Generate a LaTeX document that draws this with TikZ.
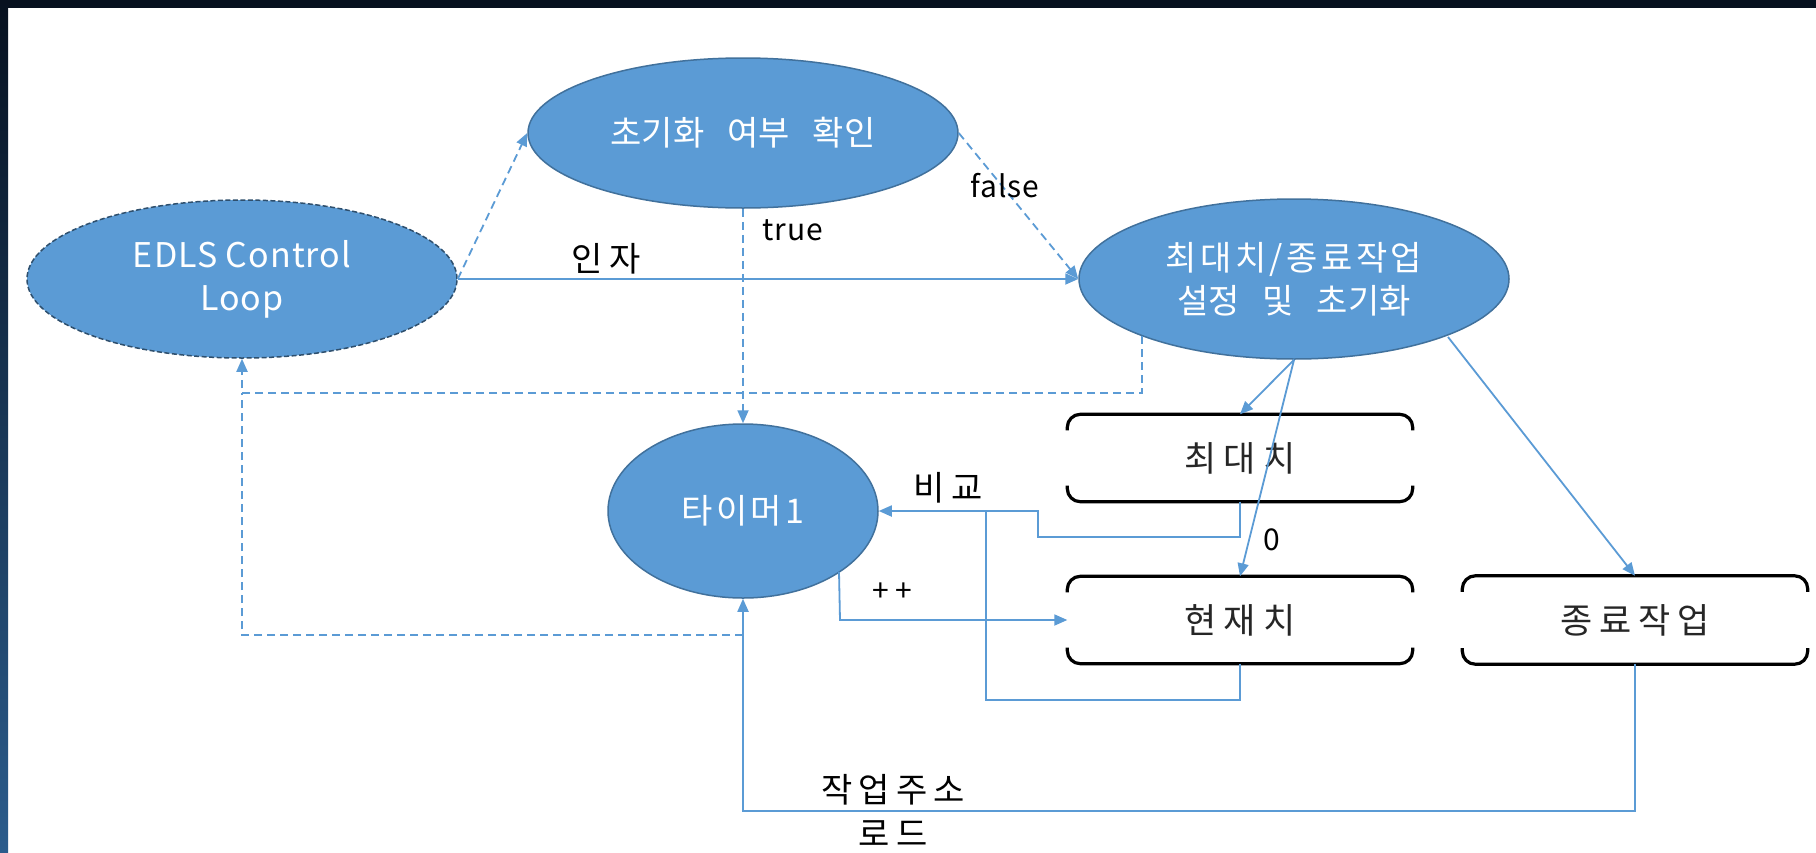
\documentclass[tikz,border=0pt]{standalone}
\usepackage{fontspec}
\setmainfont{Noto Sans CJK KR}[LetterSpace=3]
\newfontfamily\ellkr{Noto Sans CJK KR}[LetterSpace=10]
\newfontfamily\ellkrw{Noto Sans CJK KR}[WordSpace=3]
\newfontfamily\boxkr{Noto Sans CJK KR}[LetterSpace=20]
\newfontfamily\lblkr{Noto Sans CJK KR}[LetterSpace=18]
\usetikzlibrary{arrows.meta,shapes.geometric,calc}
\definecolor{fillblue}{HTML}{5B9BD5}
\definecolor{edgeblue}{HTML}{41719C}
\definecolor{linkblue}{HTML}{5B9BD5}
\definecolor{navy}{HTML}{07111F}
\definecolor{bandlow}{HTML}{2B5C8C}
\tikzset{
  bigell/.style={ellipse, fill=fillblue, draw=edgeblue, line width=1.5pt,
    minimum width=430pt, minimum height=158pt, inner sep=0pt, text=white,
    align=center, font=\fontsize{34}{43}\selectfont},
  loopell/.style={bigell, draw=edgeblue!70!black, dash pattern=on 5pt off 2.5pt},
  timerell/.style={bigell, minimum width=270pt, minimum height=174pt},
  brk/.style={minimum width=345pt, minimum height=87pt, inner sep=0pt,
    font=\boxkr\fontsize{35}{40}\selectfont, text=black!85},
  brkline/.style={line width=3.2pt, rounded corners=13pt, black},
  link/.style={draw=linkblue, line width=1.8pt, -{Triangle[length=13pt,width=11pt]}},
  dlink/.style={link, dash pattern=on 8pt off 5pt},
  plainlink/.style={draw=linkblue, line width=1.8pt},
  dplain/.style={plainlink, dash pattern=on 8pt off 5pt},
  lbl/.style={font=\lblkr\fontsize{34}{44}\selectfont, text=black, inner sep=0pt},
  smlbl/.style={inner sep=0pt, text=black, font=\fontsize{30}{36}\selectfont},
}
\newcommand\brkbox[1]{%
  \draw[brkline] ([yshift=-16pt]#1.north west) -- (#1.north west) -- (#1.north east) -- ([yshift=-16pt]#1.north east);
  \draw[brkline] ([yshift=16pt]#1.south west) -- (#1.south west) -- (#1.south east) -- ([yshift=16pt]#1.south east);}
\begin{document}
\begin{tikzpicture}[x=1pt,y=-1pt]
\useasboundingbox (0,0) rectangle (1816,852);
\fill[white] (0,0) rectangle (1816,852);
\fill[navy] (0,0) rectangle (1816,8);
\shade[top color=navy, bottom color=bandlow] (0,0) rectangle (8,852);

% nodes
\node[loopell] (edls) at (242,279) {EDLS Control\\Loop};
\node[bigell, minimum height=150pt] (init) at (743,133) {\ellkrw 초기화 여부 확인};
\node[bigell, minimum height=160pt] (setup) at (1294,279) {\ellkr 최대치/종료작업\\\ellkrw 설정 및 초기화};
\node[timerell] (timer) at (743,511) {\ellkr 타이머1};
\node[brk] (maxv) at (1240,458) {최대치};
\node[brk] (curv) at (1240,620) {현재치};
\node[brk, minimum height=88pt] (endj) at (1635,620) {종료작업};
\brkbox{maxv}
\brkbox{curv}
\brkbox{endj}

% helper coordinates
\coordinate (setupbl) at ($(setup.center)+(-152,57)$);
\coordinate (setupbr) at ($(setup.center)+(154,58)$);
\coordinate (timerbr) at ($(timer.center)+(96,61)$);
\coordinate (timertap) at (743,635);

% connectors
\draw[dlink] (edls.east) -- (init.west);
\draw[dlink] (init.east) -- (setup.west);
\draw[link] (edls.east) -- (setup.west);
\draw[dlink] (init.south) -- (timer.north);
\draw[dlink] (setupbl) -- (1142,393) -| (edls.south);
\draw[dplain] (timertap) -- (242,635) -- (242,393);
\draw[link] (setup.south) -- (maxv.north);
\draw[link] (setup.south) -- (curv.north);
\draw[link] (setupbr) -- (endj.north);
\draw[link] (maxv.south) -- (1240,537) -- (1038,537) -- (1038,511) -- (timer.east);
\draw[plainlink] (curv.south) -- (1240,700) -- (986,700) -- (986,511);
\draw[link] (timerbr) -- (840,620) -- (curv.west);
\draw[link] (endj.south) -- (1635,811) -- (743,811) -- (timer.south);

% labels
\node[smlbl] (lfalse) at (1005,186) {false};
\node[smlbl] (ltrue) at (793,230) {true};
\node[lbl] (linja) at (606,259) {인자};
\node[smlbl] (lzero) at (1272,540) {0};
\node[lbl] (lcmp) at (948,488) {비교};
\node[smlbl] (lpp) at (892,592) {+\hspace{6pt}+};
\node[lbl, align=center] (lload) at (893,810) {작업주소\\로드};
\end{tikzpicture}
\end{document}
